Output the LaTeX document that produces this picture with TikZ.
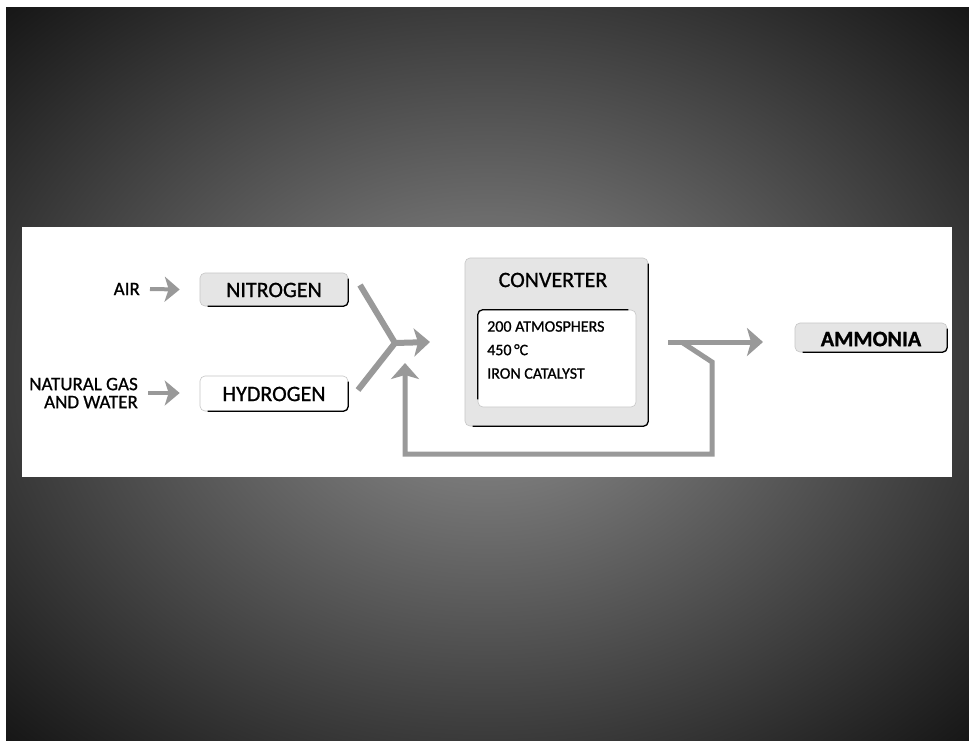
\documentclass[tikz,border=0pt]{standalone}
\usepackage{fontspec}
\setmainfont{Carlito}[FakeBold=1]
\newfontfamily\semibold{Carlito}[FakeBold=0.9]
\usetikzlibrary{arrows.meta,calc}
\definecolor{bgin}{gray}{0.56}
\definecolor{bgmid}{gray}{0.46}
\definecolor{bgout}{gray}{0.16}
\definecolor{flowc}{gray}{0.6}
\pgfdeclareradialshading{bgshade}{\pgfpoint{0bp}{0bp}}{color(0bp)=(bgin); color(8bp)=(bgmid); color(30bp)=(bgout); color(42bp)=(black); color(50bp)=(black)}
\tikzset{
  lab/.style={font=\fontsize{19}{18}\selectfont\semibold, inner sep=0pt, text=black},
  boxlab/.style={font=\fontsize{22}{24}\selectfont\semibold, inner sep=0pt, text=black},
  grbox/.style={rounded corners=5pt, draw=gray!45, line width=0.6pt, fill=gray!20, inner sep=0pt},
  whbox/.style={rounded corners=5pt, draw=gray!45, line width=0.6pt, fill=white, inner sep=0pt},
  shadowl/.style={draw=black, line width=1.3pt, rounded corners=5pt},
  flow/.style={draw=flowc, line width=5pt, -{Stealth[width=28pt,length=16pt,inset=4pt,fill=flowc]}},
  flowsmall/.style={draw=flowc, line width=4pt, -{Stealth[width=25pt,length=15pt,inset=4pt,fill=flowc]}},
  flowline/.style={draw=flowc, line width=6pt},
}
\begin{document}
\begin{tikzpicture}[x=1pt,y=-1pt]
\useasboundingbox (0,0) rectangle (969,740);
\fill[black] (0,0) rectangle (969,740);
\shade[shading=bgshade] (6,7) rectangle (969,740);
\fill[white] (0,0) rectangle (969,7);
\fill[white] (0,0) rectangle (6,740);
\fill[white] (22,227) rectangle (952,477);

% left labels
\node[lab, anchor=east] (air) at (140,289) {AIR};
\node[lab, anchor=east, align=right] (ngw) at (138,393) {NATURAL GAS\\AND WATER};

% boxes
\node[grbox, minimum width=148pt, minimum height=33pt] (nit) at (274,289.5) {};
\node[boxlab] (nitt) at (274,290) {NITROGEN};
\draw[shadowl] ([yshift=-6pt]nit.north east) -- (nit.south east) -- ([xshift=8pt]nit.south west);

\node[whbox, minimum width=148pt, minimum height=35pt] (hyd) at (274,393.5) {};
\node[boxlab] (hydt) at (274,394) {HYDROGEN};
\draw[shadowl] ([yshift=-6pt]hyd.north east) -- (hyd.south east) -- ([xshift=8pt]hyd.south west);

\node[grbox, minimum width=183pt, minimum height=168pt] (conv) at (556.5,342) {};
\node[boxlab] (convt) at (553,280) {CONVERTER};
\draw[shadowl] ([yshift=-6pt]conv.north east) -- (conv.south east) -- ([xshift=8pt]conv.south west);
\node[whbox, minimum width=158pt, minimum height=97pt] (cin) at (557,358.5) {};
\draw[shadowl] ([yshift=8pt]cin.south west) -- (cin.north west) -- ([xshift=-8pt]cin.north east);
\node[font=\fontsize{16}{23.5}\selectfont\semibold, inner sep=0pt, anchor=west, align=left] (cond) at (487,350)
  {200 ATMOSPHERS\\450\,°C\\IRON CATALYST};

\node[grbox, minimum width=152pt, minimum height=29pt] (amm) at (871,337.5) {};
\node[boxlab, font=\fontsize{22}{24}\selectfont\bfseries] (ammt) at (871,339) {AMMONIA};
\draw[shadowl] ([yshift=-6pt]amm.north east) -- (amm.south east) -- ([xshift=8pt]amm.south west);

% coordinates for connectors
\coordinate (j) at (395,343);
\coordinate (jt) at (430,342);
\coordinate (n1) at (360,285);
\coordinate (h1) at (358,390);
\coordinate (o1) at (668,342);
\coordinate (o2) at (763,342);
\coordinate (b1) at (683,343);
\coordinate (b2) at (712,362);
\coordinate (b3) at (712,454);
\coordinate (b4) at (405,454);
\coordinate (b5) at (405,363);

% connectors
\draw[flowsmall] ([xshift=10pt]air.east) -- ([xshift=-20pt]nit.west);
\draw[flowsmall] ([xshift=10pt]ngw.east) -- ([xshift=-20pt]hyd.west |- ngw.east);
\draw[flowline] (h1) -- (j);
\draw[flow, line width=6pt, line join=round] (n1) -- (j) -- (jt);
\draw[flow] (o1) -- (o2);
\draw[flow, line join=miter] (b1) -- (b2) -- (b3) -- (b4) -- (b5);
\end{tikzpicture}
\end{document}
